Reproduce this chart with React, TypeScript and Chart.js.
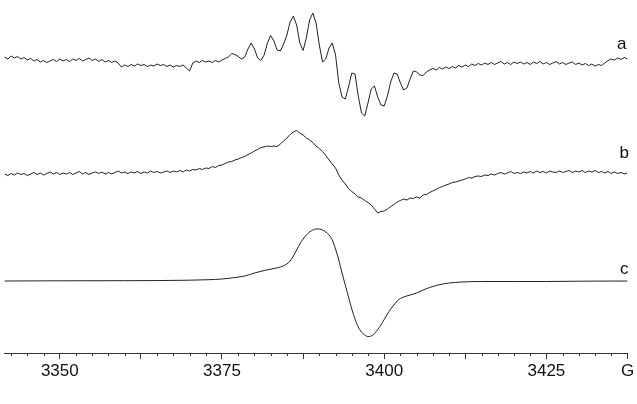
import React, { useEffect, useRef } from "react";
import { Chart, registerables } from "chart.js";

Chart.register(...registerables);

// ---- axis definition (magnetic field, G) ----
const FIELD_MIN = 3341.4;
const FIELD_MAX = 3437.5;
const MAJOR_TICKS = [3350, 3362.5, 3375, 3387.5, 3400, 3412.5, 3425, 3437.5];
const LABELED_TICKS = [3350, 3375, 3400, 3425];
const UNIT_LABEL = "G";
const MINOR_STEP = 2.5;

// ---- traces a and b: sampled every 0.5 G from 3341.5 G ----
const FIELD_START = 3341.5;
const FIELD_STEP = 0.5;

const TRACE_A = [
  296, 294, 297, 295, 296.5, 294, 295.5, 293, 294.5, 292,
  293.5, 291, 292.5, 290.5, 292, 293.5, 291.5, 294, 292, 293.5,
  291.5, 294, 292.5, 294.5, 292, 293.5, 295, 292.5, 294, 291.5,
  293.5, 291, 292.5, 290.5, 292, 290, 286, 288, 286.5, 288.5,
  287, 289, 287.5, 288.5, 286.5, 288, 287, 289, 287.5, 288.5,
  286.5, 288, 286, 287.5, 286.5, 288, 285, 282, 290, 292,
  290.5, 292.5, 291, 292, 290.5, 292.5, 291, 293, 294.5, 296,
  299.5, 298.5, 296.5, 294, 296, 304, 310, 304, 295, 292.5,
  298, 310, 317.5, 312, 303, 302, 309, 318, 331, 337,
  328, 310, 302.5, 315, 333, 340, 330, 308, 291, 294,
  305, 310, 298, 270, 256, 254, 266, 280, 279, 257,
  240, 237, 250, 264, 267, 256, 248, 247, 257, 271,
  280, 279, 270, 263, 265, 274, 282, 281, 278, 277.5,
  281, 283, 284.5, 283, 285.5, 284, 286, 284.5, 286.5, 285,
  287.5, 286, 288, 286.5, 289, 287.5, 289.5, 288, 290, 288.5,
  290.5, 288.5, 290, 291.5, 289, 290.5, 288.5, 291, 289.5, 291,
  289, 290.5, 288.5, 291, 289.5, 291.5, 289, 290.5, 288.5, 290,
  291.5, 289, 290.5, 288.5, 290, 291, 288.5, 290, 288, 289.5,
  287.5, 289, 287, 288.5, 287.5, 290, 292.5, 294, 293, 295,
  293.5, 295.5, 294,
];

const TRACE_B = [
  179, 177.5, 179.5, 178, 180, 178.5, 179.5, 177.5, 179, 180.5,
  178.5, 180, 178, 179.5, 181, 179, 180.5, 178.5, 180, 179,
  180.5, 178.5, 180, 181.5, 179, 180.5, 178.5, 180, 181, 179.5,
  181, 179, 180.5, 179, 180.5, 182, 180, 181, 179.5, 181,
  180, 181.5, 179.5, 181, 180, 182, 180.5, 181.5, 180, 181,
  182, 180.5, 182, 181, 182.5, 181, 183, 182, 183.5, 183,
  184.5, 183.5, 185, 184.5, 186.5, 185.5, 187.5, 188, 189.5, 191,
  191.5, 193, 194, 195.5, 196.5, 198.5, 200, 202, 203.5, 205.5,
  206, 207, 206.5, 207, 206.5, 209, 212, 215, 218.5, 221,
  222.5, 220, 218, 215, 213, 210.5, 207, 204.5, 201.5, 197.5,
  193, 189, 185, 178, 173, 169, 164.5, 161.5, 159, 156,
  155, 152.5, 150.5, 148, 144, 140, 141.5, 142, 144, 146.5,
  148.5, 151, 152.5, 154, 153, 155, 154.5, 156, 155, 158,
  158.5, 160.5, 162, 163.5, 165.5, 166.5, 168, 169, 170.5, 171,
  172, 173, 174, 175.5, 175, 176.5, 177, 176.5, 178, 177.5,
  179, 178, 179.5, 180.5, 179, 180, 181.5, 179.5, 180.5, 179.5,
  181, 180, 181.5, 180, 182, 180.5, 181.5, 180, 182, 181,
  180.5, 182, 180.5, 181.5, 182.5, 180.5, 182, 181, 182.5, 180.5,
  182, 181, 182.5, 180.5, 181.5, 180, 181.5, 179.5, 181, 179.5,
  180.5, 179, 180,
];

// ---- trace c (smooth simulation) ----
const FIELD_C = [
  3341.5, 3350, 3360, 3370, 3373, 3375, 3377, 3378.5, 3380, 3381.5,
  3383, 3384, 3385, 3385.5, 3386, 3386.5, 3387, 3387.5, 3388, 3388.5,
  3389, 3389.5, 3390, 3390.5, 3391, 3391.5, 3392, 3392.5, 3393, 3393.5,
  3394, 3394.5, 3395, 3395.5, 3396, 3396.5, 3397, 3397.5, 3398, 3398.5,
  3399, 3399.5, 3400, 3400.5, 3401, 3401.5, 3402, 3402.5, 3403, 3404,
  3405, 3406, 3407, 3408, 3409, 3410, 3412, 3415, 3420, 3425,
  3430, 3437.5,
];
const TRACE_C = [
  72, 72.2, 72.3, 72.8, 73.3, 74, 75.5, 77, 80, 82.5,
  84.5, 86, 89, 92, 97, 103, 109, 114, 118, 121,
  123, 124, 124, 123, 121, 118, 113, 104, 93, 80,
  68, 56, 44, 34, 26, 21, 18, 16.5, 17, 19.5,
  23.5, 28, 33.5, 39, 44, 48, 52, 54.5, 56, 58,
  60, 63, 65.5, 67.5, 69, 70, 71, 71.5, 71.5, 71.5,
  71.8, 72,
];

// ---- trace captions ----
const TRACE_LABELS = ["a", "b", "c"];
const TRACE_LABEL_FIELD = [3436.6, 3437.0, 3437.0];
const TRACE_LABEL_LEVEL = [304.5, 195.2, 79.2];

const LEVEL_MIN = 0;
const LEVEL_MAX = 353;

const AXIS_COLOR = "#333333";
const LINE_COLOR = "#222222";
const TEXT_COLOR = "#111111";
const FONT_FAMILY = '"Liberation Sans", Arial, sans-serif';

const decorPlugin = {
  id: "decor",
  afterDraw(chart: any) {
    const ctx = chart.ctx;
    const xs = chart.scales.x;
    const ys = chart.scales.y;
    const bottom = chart.chartArea.bottom;
    ctx.save();
    ctx.strokeStyle = AXIS_COLOR;
    ctx.lineWidth = 1;
    ctx.beginPath();
    const first = Math.ceil(FIELD_MIN / MINOR_STEP) * MINOR_STEP;
    for (let v = first; v <= FIELD_MAX + 1e-6; v += MINOR_STEP) {
      if (MAJOR_TICKS.some((m) => Math.abs(m - v) < 1e-6)) continue;
      const px = Math.round(xs.getPixelForValue(v)) + 0.5;
      ctx.moveTo(px, bottom);
      ctx.lineTo(px, bottom + 3);
    }
    ctx.stroke();

    ctx.fillStyle = TEXT_COLOR;
    ctx.font = `17px ${FONT_FAMILY}`;
    ctx.textAlign = "center";
    ctx.textBaseline = "alphabetic";
    TRACE_LABELS.forEach((t, i) => {
      ctx.fillText(
        t,
        xs.getPixelForValue(TRACE_LABEL_FIELD[i]),
        ys.getPixelForValue(TRACE_LABEL_LEVEL[i])
      );
    });
    ctx.restore();
  },
};

export default function App() {
  const canvasRef = useRef<HTMLCanvasElement | null>(null);

  useEffect(() => {
    const canvas = canvasRef.current;
    if (!canvas) return;
    const fieldAB = TRACE_A.map((_, i) => FIELD_START + i * FIELD_STEP);
    const toPoints = (xs: number[], ys: number[]) =>
      ys.map((y, i) => ({ x: xs[i], y }));

    const chart = new Chart(canvas, {
      type: "scatter",
      data: {
        datasets: [
          {
            label: "a",
            data: toPoints(fieldAB, TRACE_A),
            showLine: true,
            borderColor: LINE_COLOR,
            borderWidth: 1,
            pointRadius: 0,
            tension: 0,
          },
          {
            label: "b",
            data: toPoints(fieldAB, TRACE_B),
            showLine: true,
            borderColor: LINE_COLOR,
            borderWidth: 1,
            pointRadius: 0,
            tension: 0,
          },
          {
            label: "c",
            data: toPoints(FIELD_C, TRACE_C),
            showLine: true,
            borderColor: LINE_COLOR,
            borderWidth: 1,
            pointRadius: 0,
            cubicInterpolationMode: "monotone",
          },
        ],
      },
      options: {
        responsive: false,
        animation: false,
        devicePixelRatio: 1,
        layout: { padding: { left: 4, right: 9.5, top: 0, bottom: 0 } },
        plugins: {
          legend: { display: false },
          tooltip: { enabled: false },
        },
        scales: {
          x: {
            type: "linear",
            position: "bottom",
            min: FIELD_MIN,
            max: FIELD_MAX,
            afterBuildTicks: (scale: any) => {
              scale.ticks = MAJOR_TICKS.map((v) => ({ value: v }));
            },
            afterFit: (scale: any) => {
              scale.height = 51;
            },
            grid: {
              display: true,
              drawOnChartArea: false,
              drawTicks: true,
              tickLength: 6,
              color: AXIS_COLOR,
              lineWidth: 1,
            },
            border: { display: true, color: AXIS_COLOR, width: 1 },
            ticks: {
              autoSkip: false,
              maxRotation: 0,
              minRotation: 0,
              padding: 2,
              color: TEXT_COLOR,
              font: { family: FONT_FAMILY, size: 17 },
              callback: (value: any) => {
                const v = Number(value);
                if (LABELED_TICKS.includes(v)) return String(v);
                if (Math.abs(v - FIELD_MAX) < 1e-6) return UNIT_LABEL;
                return "";
              },
            },
          },
          y: {
            type: "linear",
            display: false,
            min: LEVEL_MIN,
            max: LEVEL_MAX,
          },
        },
      },
      plugins: [decorPlugin],
    } as any);

    return () => chart.destroy();
  }, []);

  return (
    <div
      style={{
        position: "absolute",
        left: 0,
        top: 0,
        width: 637,
        height: 404,
        background: "#ffffff",
      }}
    >
      <canvas ref={canvasRef} width={637} height={404} style={{ display: "block" }} />
    </div>
  );
}
